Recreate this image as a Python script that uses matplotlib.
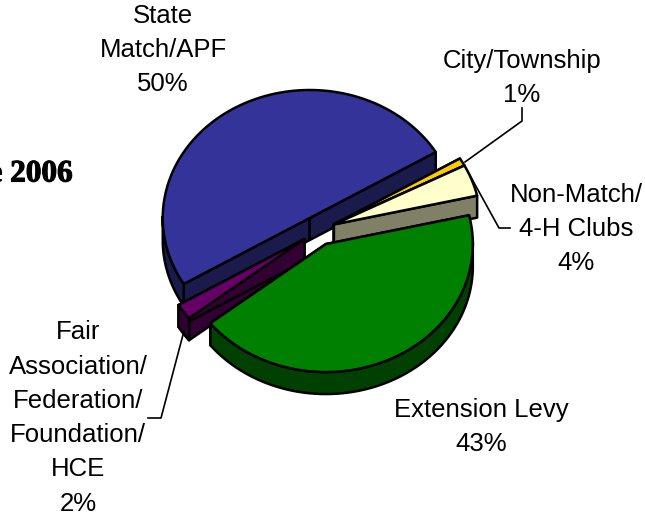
import numpy as np
import matplotlib
matplotlib.use('Agg')
import matplotlib.pyplot as plt
import matplotlib.patheffects as pe

plt.rcParams['font.family'] = ['Liberation Sans', 'DejaVu Sans']

# clockwise from the top right edge of the State slice
names = ['City/Township', 'Non-Match/\n4-H Clubs', 'Extension Levy',
         'Fair\nAssociation/\nFederation/\nFoundation/\nHCE', 'State\nMatch/APF']
shares = [1, 4, 43, 2, 50]
top_colors = ['#ffcc00', '#ffffcc', '#008000', '#660066', '#333399']
side_colors = ['#806600', '#808066', '#004000', '#330033', '#1a1a4d']

label_x = [522, 576, 481, 78, 163]
label_y = [78, 229, 427, 418, 50]

START = 31.0
CX, CY = 318.5, 230.7
A, B = 147, 128
DEPTH = 22
EXPLODE = 17
LW = 1.8
# draw order, back to front
order = [4, 0, 1, 3, 2]


def pt(t, cx, cy):
    t = np.radians(t)
    return cx + A * np.cos(t), cy - B * np.sin(t)


fig = plt.figure(figsize=(6.45, 5.16), dpi=100)
ax = fig.add_axes([0, 0, 1, 1])
ax.set_xlim(0, 645)
ax.set_ylim(516, 0)
ax.axis('off')

ends = START - np.cumsum(shares) * 3.6
starts = ends + np.array(shares) * 3.6

for i in order:
    t0, t1 = starts[i], ends[i]
    mid = (t0 + t1) / 2
    # the two small right slices come away together
    if i in (0, 1):
        mid = 25
    ox = CX + EXPLODE * np.cos(np.radians(mid))
    oy = CY - EXPLODE * B / A * np.sin(np.radians(mid))

    ts = np.linspace(t0, t1, 120)
    xs, ys = pt(ts, ox, oy)

    # radial faces
    for t in (t0, t1):
        ex, ey = pt(t, ox, oy)
        ax.fill([ox, ex, ex, ox], [oy, ey, ey + DEPTH, oy + DEPTH],
                facecolor=side_colors[i], edgecolor='black', lw=LW, joinstyle='round')

    # outer rim, front half only
    front = np.sin(np.radians(ts)) <= 0.03
    if front.any():
        fx, fy = xs[front], ys[front]
        ax.fill(np.r_[fx, fx[::-1]], np.r_[fy, fy[::-1] + DEPTH],
                facecolor=side_colors[i], edgecolor='black', lw=LW, joinstyle='round')

    ax.fill(np.r_[ox, xs], np.r_[oy, ys], facecolor=top_colors[i],
            edgecolor='black', lw=LW, joinstyle='round')

# leader lines
ax.plot([465, 522, 522], [162, 121, 108], color='black', lw=1.2)
ax.plot([467, 499, 510], [170, 228, 228], color='black', lw=1.2)
ax.plot([184, 161, 148], [331, 418, 418], color='black', lw=1.2)

for name, share, x, y in zip(names, shares, label_x, label_y):
    ax.text(x, y, f'{name}\n{share}%', ha='center', va='center', fontsize=18.5,
            color='black', linespacing=1.54)

ax.text(73, 174, 'e 2006', ha='right', va='center', fontsize=22.5, fontweight='bold',
        family=['Liberation Serif', 'DejaVu Serif'], color='black',
        path_effects=[pe.withStroke(linewidth=0.8, foreground='black')])

fig.savefig('out.png', dpi=100)
